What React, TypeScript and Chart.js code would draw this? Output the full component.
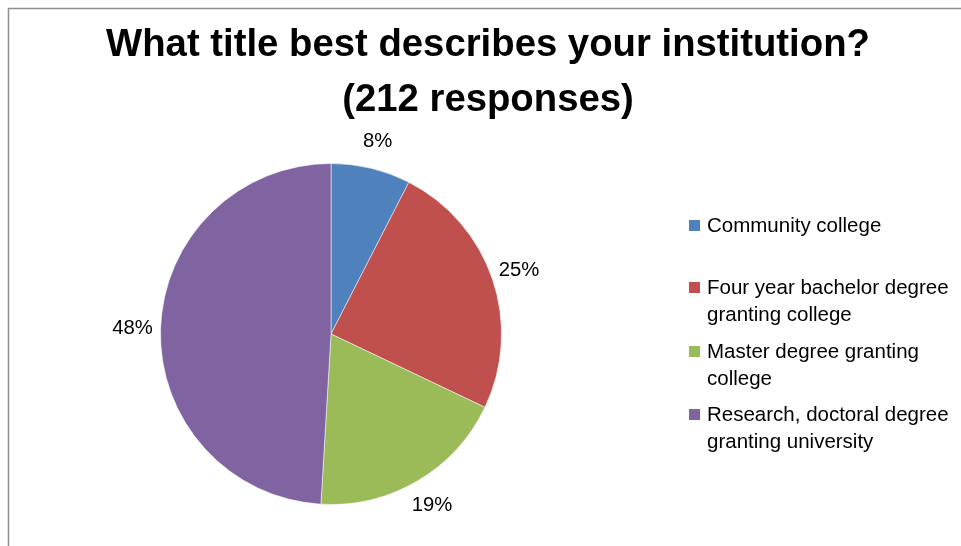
import React, { useEffect, useRef } from "react";
import { Chart, registerables } from "chart.js";

Chart.register(...registerables);

const categories = [
  "Community college",
  "Four year bachelor degree granting college",
  "Master degree granting college",
  "Research, doctoral degree granting university",
];
const responses = [16, 52, 40, 104];
const percentLabels = ["8%", "25%", "19%", "48%"];
const colors = ["#4F81BD", "#C0504D", "#9BBB59", "#8064A2"];
const titleLines = ["What title best describes your institution?", "(212 responses)"];

const FONT = "Liberation Sans, Arial, sans-serif";

function wrap(ctx: CanvasRenderingContext2D, text: string, maxW: number): string[] {
  const words = text.split(" ");
  const lines: string[] = [];
  let cur = "";
  for (const w of words) {
    const test = cur ? cur + " " + w : w;
    if (ctx.measureText(test).width > maxW && cur) {
      lines.push(cur);
      cur = w;
    } else cur = test;
  }
  if (cur) lines.push(cur);
  return lines;
}

const decorPlugin = {
  id: "decor",
  beforeDraw(chart: any) {
    const ctx = chart.ctx as CanvasRenderingContext2D;
    ctx.save();
    ctx.strokeStyle = "#8f8f8f";
    ctx.lineWidth = 1.5;
    ctx.beginPath();
    ctx.moveTo(8.5, 560);
    ctx.lineTo(8.5, 8.5);
    ctx.lineTo(970, 8.5);
    ctx.stroke();
    ctx.restore();
  },
  afterDraw(chart: any) {
    const ctx = chart.ctx as CanvasRenderingContext2D;
    ctx.save();
    // title
    ctx.fillStyle = "#000";
    ctx.textAlign = "center";
    ctx.textBaseline = "alphabetic";
    ctx.font = `bold 38.3px ${FONT}`;
    const titleBase = [56, 111];
    titleLines.forEach((t, i) => ctx.fillText(t, 488, titleBase[i]));

    // percent labels
    const meta = chart.getDatasetMeta(0);
    ctx.font = `20.3px ${FONT}`;
    ctx.textBaseline = "middle";
    meta.data.forEach((arc: any, i: number) => {
      const mid = (arc.startAngle + arc.endAngle) / 2;
      const r = arc.outerRadius + 28;
      const x = arc.x + Math.cos(mid) * r;
      const y = arc.y + Math.sin(mid) * r;
      ctx.fillText(percentLabels[i], x, y);
    });

    // legend
    ctx.textAlign = "left";
    ctx.textBaseline = "alphabetic";
    ctx.font = `20.5px ${FONT}`;
    const firstBase = [232, 294, 358, 421];
    const lineH = 26.5;
    (chart.data.labels as string[]).forEach((lab, i) => {
      const lines = wrap(ctx, lab, 252);
      const b = firstBase[i];
      ctx.fillStyle = colors[i];
      ctx.fillRect(689, b - 12, 11, 11);
      ctx.fillStyle = "#000";
      lines.forEach((ln, j) => ctx.fillText(ln, 707, b + j * lineH));
    });
    ctx.restore();
  },
};

export default function App() {
  const ref = useRef<HTMLCanvasElement>(null);
  useEffect(() => {
    const chart = new Chart(ref.current!, {
      type: "pie",
      data: {
        labels: categories,
        datasets: [
          {
            data: responses,
            backgroundColor: colors,
            borderColor: "rgba(255,255,255,0.5)",
            borderWidth: 1,
          },
        ],
      },
      options: {
        responsive: false,
        animation: false,
        devicePixelRatio: 1,
        layout: { padding: { left: 160, right: 459, top: 163, bottom: 41 } },
        plugins: {
          legend: { display: false },
          title: { display: false },
          tooltip: { enabled: false },
        },
      },
      plugins: [decorPlugin],
    });
    return () => chart.destroy();
  }, []);
  return (
    <canvas
      ref={ref}
      width={961}
      height={546}
      style={{ position: "fixed", left: 0, top: 0, width: 961, height: 546, background: "#fff" }}
    />
  );
}
